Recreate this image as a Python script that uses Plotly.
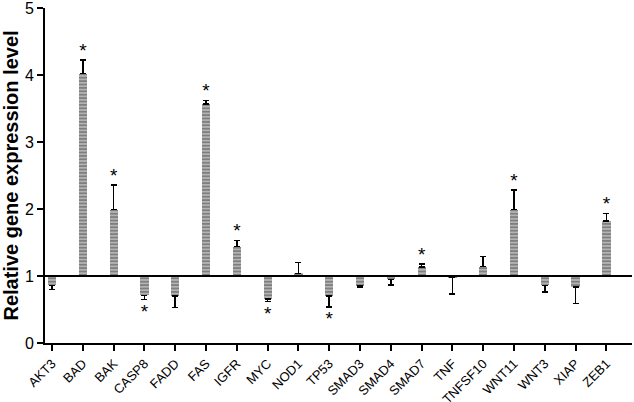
import plotly.graph_objects as go

genes = ["AKT3", "BAD", "BAK", "CASP8", "FADD", "FAS", "IGFR", "MYC", "NOD1", "TP53",
         "SMAD3", "SMAD4", "SMAD7", "TNF", "TNFSF10", "WNT11", "WNT3", "XIAP", "ZEB1"]
expression = [0.86, 4.02, 1.99, 0.71, 0.70, 3.57, 1.44, 0.66, 1.04, 0.70,
              0.85, 0.95, 1.13, 0.98, 1.14, 1.99, 0.86, 0.84, 1.82]
error = [0.06, 0.20, 0.37, 0.06, 0.17, 0.05, 0.09, 0.04, 0.16, 0.16,
         0.02, 0.08, 0.05, 0.25, 0.15, 0.29, 0.10, 0.25, 0.11]
significant = [False, True, True, True, False, True, True, True, False, True,
               False, False, True, False, False, True, False, False, True]

font = "Liberation Sans, Arial, sans-serif"

delta = [v - 1 for v in expression]
err_up = [e if d >= 0 else 0 for d, e in zip(delta, error)]
err_down = [e if d < 0 else 0 for d, e in zip(delta, error)]

fig = go.Figure()

fig.add_trace(go.Bar(
    x=genes, y=delta, base=1, width=0.27,
    marker=dict(color="white", line=dict(width=0),
                pattern=dict(shape="-", fgcolor="black", bgcolor="white",
                             size=3.4, solidity=0.8)),
    error_y=dict(type="data", symmetric=False, array=err_up, arrayminus=err_down,
                 color="black", thickness=1.6, width=3),
    showlegend=False,
))

# asterisks just beyond the end of each significant error bar
star_x, star_y = [], []
for g, d, e, s in zip(genes, delta, error, significant):
    if not s:
        continue
    star_x.append(g)
    star_y.append(1 + d + e + 0.12 if d >= 0 else 1 + d - e - 0.2)

fig.add_trace(go.Scatter(
    x=star_x, y=star_y, mode="text", text=["*"] * len(star_x),
    textfont=dict(family=font, size=19, color="black"),
    showlegend=False, hoverinfo="skip",
))

fig.add_shape(type="line", xref="paper", x0=0, x1=1, yref="y", y0=1, y1=1,
              line=dict(color="black", width=2))

fig.update_layout(
    width=634, height=402,
    margin=dict(l=45, r=2, t=8, b=59),
    plot_bgcolor="white", paper_bgcolor="white",
    font=dict(family=font, color="black"),
    bargap=0,
    xaxis=dict(range=[-0.23, 18.83], showline=True, linecolor="black", linewidth=2,
               ticks="outside", ticklen=6, tickwidth=2, tickcolor="black",
               tickangle=-45, tickfont=dict(size=13), showgrid=False,
               zeroline=False, automargin=False),
    yaxis=dict(range=[0, 5], tickvals=[0, 1, 2, 3, 4, 5], showline=True,
               linecolor="black", linewidth=2, ticks="outside", ticklen=6,
               tickwidth=2, tickcolor="black", tickfont=dict(size=16),
               ticklabeloverflow="allow",
               showgrid=False, zeroline=False, automargin=False,
               title=dict(text="<b>Relative gene expression level</b>",
                          font=dict(size=20), standoff=6)),
)

fig.write_html("out.html", config={"displayModeBar": False},
               post_script="document.body.style.margin = '0';")
